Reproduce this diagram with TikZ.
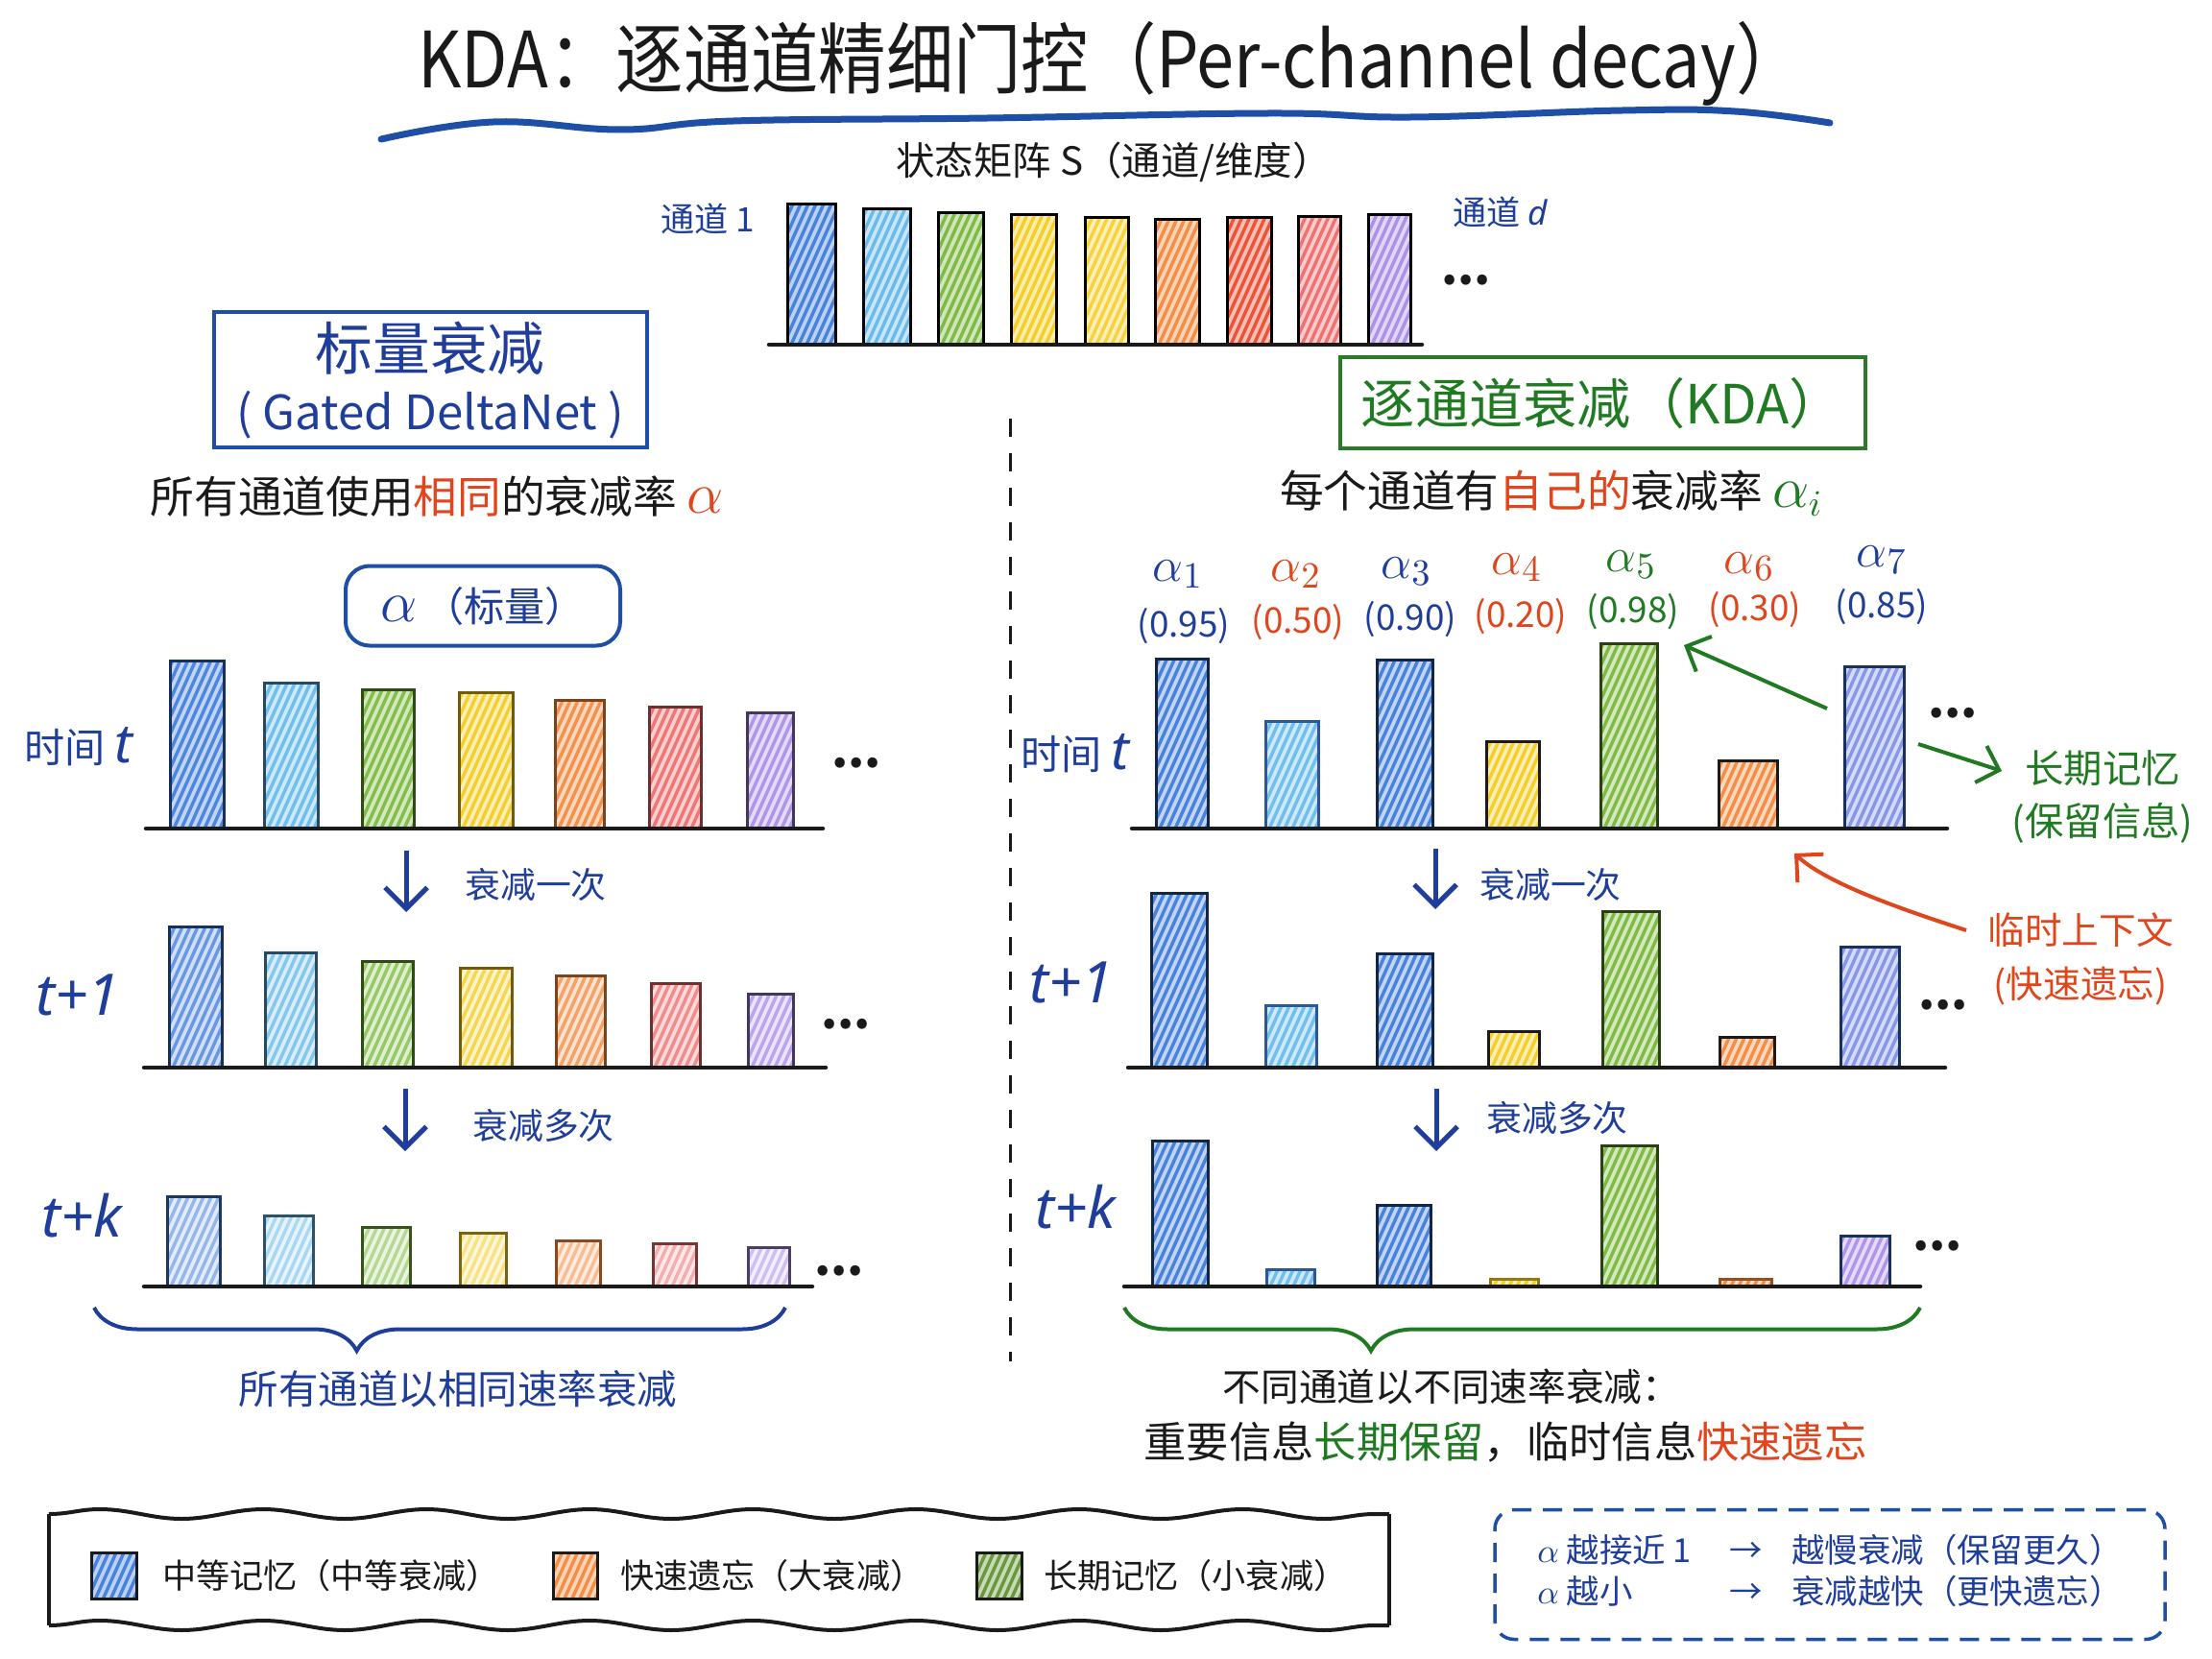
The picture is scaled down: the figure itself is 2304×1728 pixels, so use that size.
\documentclass[tikz,border=0pt]{standalone}
\usepackage{fontspec}
\setmainfont{Noto Sans CJK SC}
\newfontfamily\lat{Noto Sans}
\usetikzlibrary{arrows.meta,decorations.pathreplacing,decorations.pathmorphing,calc}
\definecolor{cBlue}{HTML}{3D7BDB}
\definecolor{cLBlue}{HTML}{62B8EA}
\definecolor{cGreen}{HTML}{78B83A}
\definecolor{cYellow}{HTML}{F4CB1C}
\definecolor{cYellowB}{HTML}{F7D030}
\definecolor{cOrange}{HTML}{F4873A}
\definecolor{cRed}{HTML}{EE4A2C}
\definecolor{cPink}{HTML}{EF6A6A}
\definecolor{cPurple}{HTML}{A88BE6}
\definecolor{cPeri}{HTML}{7E8FE6}
\definecolor{ink}{HTML}{1A1A1A}
\definecolor{tBlue}{HTML}{1F3E9C}
\definecolor{bBlue}{HTML}{1D4FA6}
\definecolor{tRed}{HTML}{E0451C}
\definecolor{tGreen}{HTML}{1F7A22}
\definecolor{gBox}{HTML}{2A7A2A}
\newcommand\fs[2]{\fontsize{#1}{#2}\selectfont}
\tikzset{
  hb/.style n args={4}{draw=#2, line width=0.3mm, inner sep=0pt, outer sep=0pt, anchor=south,
    fill=#1!#3,
    path picture={\foreach \i in {-10,-9.2,...,7}{\draw[#1!#4, line width=0.34mm, line cap=round]
      ([xshift=\i mm]path picture bounding box.south west) -- ++(9mm,20mm);}}},
  axisline/.style={ink, line width=0.45mm, line cap=round},
  darr/.style={tBlue, line width=0.5mm, -{Straight Barb[length=2.2mm,width=4.4mm]}},
  garr/.style={tGreen, line width=0.4mm, -{Straight Barb[length=2mm,width=4mm]}},
  rarr/.style={tRed, line width=0.4mm, -{Straight Barb[length=2mm,width=4mm]}},
  dotsty/.style={font=\fs{14}{14}\bfseries, text=ink},
  lbl/.style={text=tBlue, font=\fs{10.5}{12}},
  tlab/.style={text=tBlue, font=\lat\itshape\fs{17}{17}},
  alab/.style={font=\fs{15}{15}},
  vlab/.style={font=\fs{10.5}{12}},
}
\newcommand\barnode[6]{\node[#6, minimum width={(#3-#2)*0.1mm}, minimum height={(#5-#4)*0.1mm}] (#1) at ({(#2+#3)/2},#5) {};}
\begin{document}
\begin{tikzpicture}[x=0.1mm,y=-0.1mm, every node/.style={inner sep=0pt, outer sep=0pt}]
\useasboundingbox[fill=white] (0,0) rectangle (2304,1728);

% ---------- title ----------
\node[text=ink, font=\fs{23}{28}] (title) at (1157,66) {\scalebox{0.87}[1]{KDA：逐通道精细门控（Per-channel decay）}};
\draw[bBlue, line width=0.7mm, line cap=round] plot[smooth, tension=0.7] coordinates {(397,145) (514,127) (647,135) (764,126) (1029,123) (1323,118) (1470,122) (1690,115) (1807,116) (1906,128)};

% ---------- state matrix ----------
\node[text=ink, font=\fs{11.5}{14}] (state) at (1160,169) {状态矩阵 S（通道/维度）};
\barnode{s1}{820}{870}{213}{359}{hb={cBlue}{black}{35}{95}}
\barnode{s2}{899}{948}{218}{359}{hb={cLBlue}{black}{35}{95}}
\barnode{s3}{977}{1024}{222}{359}{hb={cGreen}{black}{35}{95}}
\barnode{s4}{1053}{1100}{224}{359}{hb={cYellow}{black}{35}{95}}
\barnode{s5}{1130}{1175}{227}{359}{hb={cYellowB}{black}{35}{95}}
\barnode{s6}{1203}{1249}{229}{359}{hb={cOrange}{black}{35}{95}}
\barnode{s7}{1278}{1324}{227}{359}{hb={cRed}{black}{35}{95}}
\barnode{s8}{1352}{1396}{226}{359}{hb={cPink}{black}{35}{95}}
\barnode{s9}{1425}{1469}{224}{359}{hb={cPurple}{black}{35}{95}}
\coordinate (sa) at (801,359); \coordinate (sb) at (1481,359);
\draw[axisline] (sa) -- (sb);
\node[lbl, font=\fs{10}{12}] (c1) at (737,228) {通道 1};
\node[lbl, font=\fs{10}{12}] (cd) at (1563,221) {通道 {\lat\itshape d}};
\node[dotsty] (sdots) at (1527,292) {...};

% ---------- left header ----------
\node[draw=bBlue, line width=0.4mm, minimum width=45.1mm, minimum height=14.1mm, align=center, text=tBlue, font=\fs{16}{17.6}] (gdn) at (448,396) {{\fs{17}{17.6}标量衰减}\\{\fs{14}{17.6}( Gated DeltaNet )}};
\node[text=ink, font=\fs{13}{16}] (ldesc) at (455,517) {所有通道使用{\color{tRed}相同}的衰减率 {\color{tRed}\fs{16}{16}$\alpha$}};
\node[draw=bBlue, line width=0.4mm, rounded corners=2.5mm, minimum width=28.6mm, minimum height=8.3mm, text=tBlue, font=\fs{12}{14}] (abox) at (503,631) {{\fs{19}{19}$\alpha$}\,（标量）};

% ---------- left chart t ----------
\barnode{la1}{177}{233}{688}{863}{hb={cBlue}{cBlue!40!black}{32}{92}}
\barnode{la2}{275}{331}{711}{863}{hb={cLBlue}{cLBlue!40!black}{32}{92}}
\barnode{la3}{377}{431}{718}{863}{hb={cGreen}{cGreen!40!black}{32}{92}}
\barnode{la4}{478}{534}{721}{863}{hb={cYellow}{cYellow!45!black}{32}{92}}
\barnode{la5}{578}{629}{729}{863}{hb={cOrange}{cOrange!50!black}{32}{92}}
\barnode{la6}{676}{730}{736}{863}{hb={cPink}{cPink!45!black}{32}{92}}
\barnode{la7}{778}{826}{742}{863}{hb={cPurple}{cPurple!40!black}{32}{92}}
\coordinate (lxa) at (152,863); \coordinate (lxb) at (857,863);
\draw[axisline] (lxa) -- (lxb);
\node[text=tBlue, font=\fs{12}{14}] (lt) at (82,778) {时间 {\lat\itshape\fs{16}{16}t}};
\node[dotsty] (ldots1) at (892,795) {...};

\coordinate (lar1s) at (423,886); \coordinate (lar1e) at (423,950);
\draw[darr] (lar1s) -- (lar1e);
\node[lbl] (ld1) at (558,921) {衰减一次};

% ---------- left chart t+1 ----------
\barnode{lb1}{176}{231}{965}{1112}{hb={cBlue}{cBlue!40!black}{24}{78}}
\barnode{lb2}{276}{329}{992}{1112}{hb={cLBlue}{cLBlue!40!black}{24}{78}}
\barnode{lb3}{377}{430}{1001}{1112}{hb={cGreen}{cGreen!40!black}{24}{78}}
\barnode{lb4}{479}{533}{1008}{1112}{hb={cYellow}{cYellow!45!black}{24}{78}}
\barnode{lb5}{579}{630}{1016}{1112}{hb={cOrange}{cOrange!50!black}{24}{78}}
\barnode{lb6}{678}{729}{1024}{1112}{hb={cPink}{cPink!45!black}{24}{78}}
\barnode{lb7}{779}{826}{1035}{1112}{hb={cPurple}{cPurple!40!black}{24}{78}}
\coordinate (lya) at (150,1112); \coordinate (lyb) at (860,1112);
\draw[axisline] (lya) -- (lyb);
\node[tlab] (lt1) at (81,1036) {t+1};
\node[dotsty] (ldots2) at (881,1067) {...};

\coordinate (lar2s) at (422,1134); \coordinate (lar2e) at (422,1199);
\draw[darr] (lar2s) -- (lar2e);
\node[lbl] (ld2) at (566,1172) {衰减多次};

% ---------- left chart t+k ----------
\barnode{lc1}{174}{229}{1246}{1340}{hb={cBlue}{cBlue!45!black}{15}{55}}
\barnode{lc2}{275}{326}{1266}{1340}{hb={cLBlue}{cLBlue!45!black}{15}{55}}
\barnode{lc3}{377}{427}{1278}{1340}{hb={cGreen}{cGreen!45!black}{15}{55}}
\barnode{lc4}{479}{527}{1284}{1340}{hb={cYellow}{cYellow!50!black}{15}{55}}
\barnode{lc5}{579}{625}{1292}{1340}{hb={cOrange}{cOrange!55!black}{15}{55}}
\barnode{lc6}{680}{725}{1295}{1340}{hb={cPink}{cPink!50!black}{15}{55}}
\barnode{lc7}{779}{822}{1299}{1340}{hb={cPurple}{cPurple!45!black}{15}{55}}
\coordinate (lza) at (150,1340); \coordinate (lzb) at (846,1340);
\draw[axisline] (lza) -- (lzb);
\node[tlab] (ltk) at (85,1266) {t+k};
\node[dotsty] (ldots3) at (874,1324) {...};

\coordinate (lbrs) at (98,1362); \coordinate (lbre) at (818,1362);
\draw[tBlue, line width=0.4mm, decorate, decoration={brace, mirror, amplitude=4.5mm, aspect=0.38}] (lbrs) -- (lbre);
\node[text=tBlue, font=\fs{11.8}{14}] (lsum) at (477,1447) {所有通道以相同速率衰减};

% ---------- divider ----------
\coordinate (dv1) at (1052,436); \coordinate (dv2) at (1052,1418);
\draw[ink, line width=0.3mm, dash pattern=on 1.9mm off 1.7mm] (dv1) -- (dv2);

% ---------- right header ----------
\node[draw=gBox, line width=0.4mm, minimum width=54.7mm, minimum height=9.5mm, text=tGreen, font=\fs{16}{18}] (kda) at (1669,420) {逐通道衰减（KDA）};
\node[text=ink, font=\fs{13}{16}] (rdesc) at (1616,514) {每个通道有{\color{tRed}自己的}衰减率 {\color{tGreen}\fs{16}{16}$\alpha_i$}};

% alpha labels
\node[alab, text=tBlue]  (al1) at (1227,598) {$\alpha_1$};
\node[alab, text=tRed]   (al2) at (1350,598) {$\alpha_2$};
\node[alab, text=tBlue]  (al3) at (1465,595) {$\alpha_3$};
\node[alab, text=tRed]   (al4) at (1580,591) {$\alpha_4$};
\node[alab, text=tGreen] (al5) at (1699,588) {$\alpha_5$};
\node[alab, text=tRed]   (al6) at (1822,590) {$\alpha_6$};
\node[alab, text=tBlue]  (al7) at (1960,583) {$\alpha_7$};
\node[vlab, text=tBlue]  (av1) at (1233,652) {(0.95)};
\node[vlab, text=tRed]   (av2) at (1352,648) {(0.50)};
\node[vlab, text=tBlue]  (av3) at (1469,645) {(0.90)};
\node[vlab, text=tRed]   (av4) at (1584,642) {(0.20)};
\node[vlab, text=tGreen] (av5) at (1701,637) {(0.98)};
\node[vlab, text=tRed]   (av6) at (1828,635) {(0.30)};
\node[vlab, text=tBlue]  (av7) at (1960,632) {(0.85)};

% ---------- right chart t ----------
\barnode{ra1}{1204}{1258}{686}{863}{hb={cBlue}{cBlue!30!black}{32}{95}}
\barnode{ra2}{1318}{1373}{751}{863}{hb={cLBlue}{cBlue!70!black}{32}{92}}
\barnode{ra3}{1434}{1492}{687}{863}{hb={cBlue}{cBlue!30!black}{32}{95}}
\barnode{ra4}{1548}{1603}{772}{863}{hb={cYellow}{ink}{32}{95}}
\barnode{ra5}{1667}{1726}{670}{863}{hb={cGreen}{cGreen!35!black}{32}{95}}
\barnode{ra6}{1790}{1851}{792}{863}{hb={cOrange}{ink}{32}{95}}
\barnode{ra7}{1921}{1983}{694}{863}{hb={cPeri}{cBlue!40!black}{32}{92}}
\coordinate (rxa) at (1179,863); \coordinate (rxb) at (2028,863);
\draw[axisline] (rxa) -- (rxb);
\node[text=tBlue, font=\fs{12}{14}] (rt) at (1120,785) {时间 {\lat\itshape\fs{16}{16}t}};
\node[dotsty] (rdots1) at (2034,743) {...};

\coordinate (g1s) at (1903,738); \coordinate (g1e) at (1754,672);
\draw[garr] (g1s) -- (g1e);
\node[text=tGreen, align=center, font=\fs{11.5}{15.6}] (ltm) at (2190,830) {长期记忆\\(保留信息)};
\coordinate (g2s) at (1998,775); \coordinate (g2e) at (2085,803);
\draw[garr] (g2s) -- (g2e);

\node[text=tRed, align=center, font=\fs{11}{16}] (tmp) at (2167,999) {临时上下文\\(快速遗忘)};
\coordinate (r1s) at (2048,969); \coordinate (r1e) at (1869,889);
\draw[rarr] (r1s) .. controls (1990,950) and (1905,922) .. (r1e);

\coordinate (rar1s) at (1495,884); \coordinate (rar1e) at (1495,947);
\draw[darr] (rar1s) -- (rar1e);
\node[lbl] (rd1) at (1615,921) {衰减一次};

% ---------- right chart t+1 ----------
\barnode{rb1}{1199}{1257}{930}{1112}{hb={cBlue}{cBlue!30!black}{32}{95}}
\barnode{rb2}{1318}{1371}{1047}{1112}{hb={cLBlue}{cBlue!70!black}{32}{92}}
\barnode{rb3}{1434}{1492}{993}{1112}{hb={cBlue}{cBlue!30!black}{32}{95}}
\barnode{rb4}{1550}{1603}{1074}{1112}{hb={cYellow}{ink}{32}{95}}
\barnode{rb5}{1669}{1728}{949}{1112}{hb={cGreen}{cGreen!35!black}{32}{95}}
\barnode{rb6}{1791}{1848}{1080}{1112}{hb={cOrange}{ink}{32}{95}}
\barnode{rb7}{1917}{1978}{986}{1112}{hb={cPeri}{cBlue!40!black}{32}{92}}
\coordinate (rya) at (1175,1112); \coordinate (ryb) at (2026,1112);
\draw[axisline] (rya) -- (ryb);
\node[tlab] (rt1) at (1116,1023) {t+1};
\node[dotsty] (rdots2) at (2024,1047) {...};

\coordinate (rar2s) at (1496,1134); \coordinate (rar2e) at (1496,1199);
\draw[darr] (rar2s) -- (rar2e);
\node[lbl] (rd2) at (1622,1164) {衰减多次};

% ---------- right chart t+k ----------
\barnode{rc1}{1200}{1258}{1188}{1340}{hb={cBlue}{cBlue!30!black}{32}{95}}
\barnode{rc2}{1319}{1369}{1322}{1340}{hb={cLBlue}{cBlue!70!black}{32}{92}}
\barnode{rc3}{1434}{1490}{1255}{1340}{hb={cBlue}{cBlue!30!black}{32}{95}}
\barnode{rc4}{1552}{1602}{1332}{1340}{hb={cYellow}{cYellow!60!black}{32}{95}}
\barnode{rc5}{1668}{1726}{1193}{1340}{hb={cGreen}{cGreen!35!black}{32}{95}}
\barnode{rc6}{1791}{1845}{1332}{1340}{hb={cOrange}{cOrange!60!black}{32}{95}}
\barnode{rc7}{1917}{1968}{1287}{1340}{hb={cPurple}{cBlue!40!black}{32}{92}}
\coordinate (rza) at (1171,1340); \coordinate (rzb) at (2000,1340);
\draw[axisline] (rza) -- (rzb);
\node[tlab] (rtk) at (1120,1257) {t+k};
\node[dotsty] (rdots3) at (2018,1298) {...};

\coordinate (rbrs) at (1171,1362); \coordinate (rbre) at (2000,1362);
\draw[tGreen, line width=0.4mm, decorate, decoration={brace, mirror, amplitude=4.5mm, aspect=0.31}] (rbrs) -- (rbre);
\node[text=ink, font=\fs{11.3}{14}] (rsum1) at (1512,1444) {不同通道以不同速率衰减：};
\node[text=ink, font=\fs{12.6}{15}] (rsum2) at (1568,1502) {重要信息{\color{tGreen}长期保留}，临时信息{\color{tRed}快速遗忘}};

% ---------- legend ----------
\node[minimum width=139.6mm, minimum height=11.6mm] (lg) at (749,1635) {};
\draw[ink, line width=0.4mm, decorate, decoration={snake, amplitude=0.5mm, segment length=17mm}] (lg.north west) -- (lg.north east);
\draw[ink, line width=0.4mm, decorate, decoration={snake, amplitude=0.5mm, segment length=17mm}] (lg.south west) -- (lg.south east);
\draw[ink, line width=0.4mm] (lg.north west) -- (lg.south west);
\draw[ink, line width=0.4mm] (lg.north east) -- (lg.south east);
\node[hb={cBlue}{ink}{35}{95}, anchor=center, minimum width=4.7mm, minimum height=4.8mm] (lgb) at (119,1641) {};
\node[anchor=west, text=ink, font=\fs{10}{12}] (lgbt) at (169,1641) {中等记忆（中等衰减）};
\node[hb={cOrange}{ink}{35}{95}, anchor=center, minimum width=4.6mm, minimum height=4.8mm] (lgo) at (599,1641) {};
\node[anchor=west, text=ink, font=\fs{10}{12}] (lgot) at (646,1641) {快速遗忘（大衰减）};
\node[hb={cGreen!80!black}{ink}{35}{95}, anchor=center, minimum width=4.7mm, minimum height=4.8mm] (lgg) at (1041,1641) {};
\node[anchor=west, text=ink, font=\fs{10}{12}] (lggt) at (1087,1641) {长期记忆（小衰减）};

\node[draw=bBlue, line width=0.35mm, dash pattern=on 2mm off 1.2mm, rounded corners=2mm, minimum width=69.8mm, minimum height=13.5mm, text=tBlue, font=\fs{9.8}{12.2}] (note) at (1906,1640)
 {\begin{tabular}{@{}l@{\hspace{4mm}}c@{\hspace{3mm}}l@{}}$\alpha$ 越接近 1 & → & 越慢衰减（保留更久）\\ $\alpha$ 越小 & → & 衰减越快（更快遗忘）\end{tabular}};
\end{tikzpicture}
\end{document}
